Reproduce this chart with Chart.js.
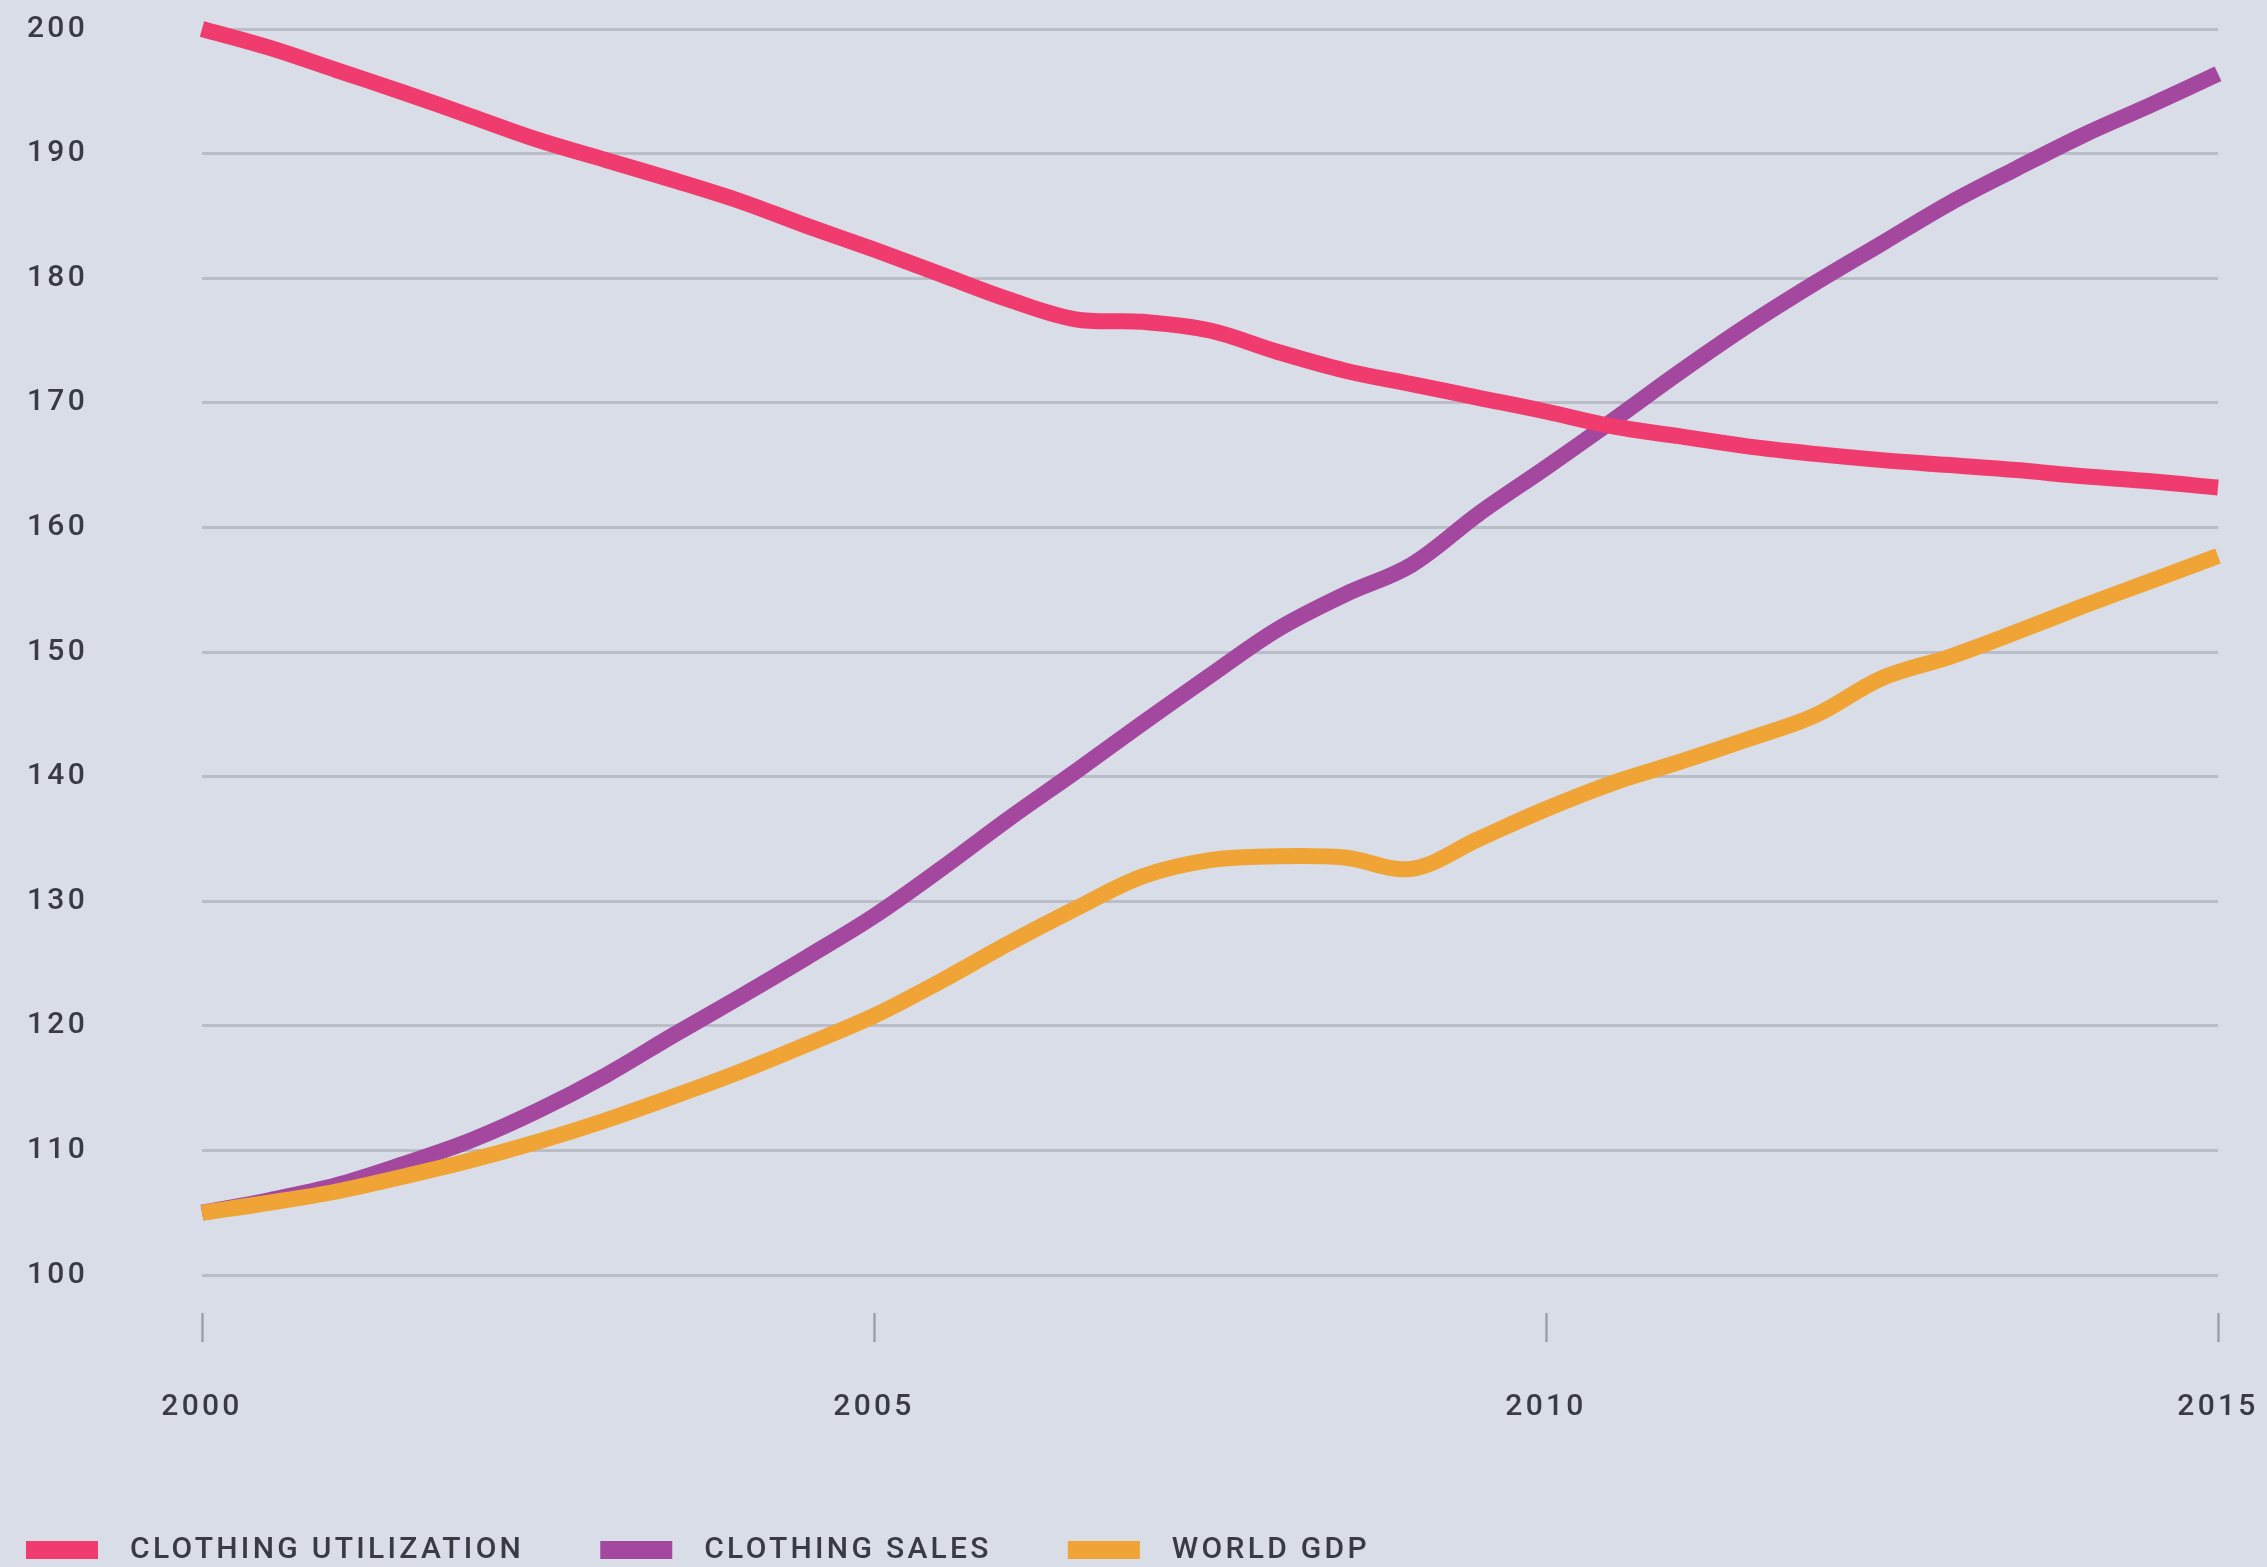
<!DOCTYPE html>
<html>
<head>
<meta charset="utf-8">
<script src="https://cdn.jsdelivr.net/npm/chart.js@4.4.1/dist/chart.umd.min.js"></script>
<style>
html,body{margin:0;padding:0;background:#d8dde7;overflow:hidden}
canvas{display:block}
</style>
</head>
<body>
<canvas id="c" width="2267" height="1567"></canvas>
<script>
// ---- data ----
const years = [2000,2000.5,2001,2001.5,2002,2002.5,2003,2003.5,2004,2004.5,2005,2005.5,2006,2006.5,2007,2007.5,2008,2008.5,2009,2009.5,2010,2010.5,2011,2011.5,2012,2012.5,2013,2013.5,2014,2014.5,2015];
const seriesNames = ['CLOTHING UTILIZATION','CLOTHING SALES','WORLD GDP'];
const clothingUtilization = [200.0,198.5,196.7,194.9,193.0,191.1,189.5,187.9,186.2,184.2,182.3,180.3,178.3,176.7,176.5,175.8,174.1,172.6,171.5,170.4,169.3,168.1,167.3,166.5,165.9,165.4,165.0,164.6,164.1,163.7,163.2];
const clothingSales = [105.0,106.0,107.2,108.9,110.8,113.2,116.0,119.2,122.3,125.5,128.8,132.6,136.6,140.4,144.3,148.1,151.8,154.6,157.0,161.1,164.8,168.6,172.5,176.2,179.6,182.8,186.0,188.8,191.5,193.9,196.4];
const worldGdp = [105.0,105.8,106.7,107.9,109.2,110.7,112.4,114.3,116.3,118.5,120.8,123.6,126.6,129.4,132.0,133.3,133.6,133.5,132.6,135.0,137.4,139.5,141.2,143.0,144.9,147.9,149.6,151.6,153.7,155.7,157.7];
const xTickLabels = [2000,2005,2010,2015];
const yTickLabels = [100,110,120,130,140,150,160,170,180,190,200];

// ---- styles ----
const colors = ['#ef3b6d','#a3479f','#efa435'];
const FONT = {family:'Roboto, "Liberation Sans", Arial, sans-serif', size:30, weight:'500'};
const TEXT = '#383b43';

function makeSwatch(color){
  const c = document.createElement('canvas');
  c.width = 129; c.height = 18;
  const g = c.getContext('2d');
  g.fillStyle = color;
  g.fillRect(40, 0, 72, 18);
  return c;
}
const swatches = colors.map(makeSwatch);

const spacing = {
  id:'spacing',
  beforeLayout(ch){ ch.ctx.letterSpacing = '3.3px'; },
  beforeDraw(ch){ ch.ctx.letterSpacing = '3.3px'; }
};

const toPts = arr => years.map((x,i)=>({x, y: arr[i]}));
const seriesValues = [clothingUtilization, clothingSales, worldGdp];
const drawOrder = [0, 2, 1];

new Chart(document.getElementById('c'), {
  type: 'line',
  data: {
    datasets: seriesValues.map((arr,i)=>({
      label: seriesNames[i],
      data: toPts(arr),
      borderColor: colors[i],
      backgroundColor: colors[i],
      borderWidth: 16,
      pointRadius: 0,
      pointHoverRadius: 0,
      tension: 0.35,
      fill: false,
      clip: false,
      order: drawOrder[i]
    }))
  },
  plugins: [spacing],
  options: {
    responsive: false,
    devicePixelRatio: 1,
    animation: false,
    events: [],
    layout: { autoPadding: false, padding: { top: 29, left: -50, right: 49, bottom: -8 } },
    scales: {
      x: {
        type: 'linear',
        min: 2000, max: 2015,
        afterBuildTicks: s => { s.ticks = xTickLabels.map(v=>({value:v})); },
        afterFit: s => { s.height = 224; s.paddingLeft = 0; s.paddingRight = 0; },
        grid: {
          drawOnChartArea: false,
          drawTicks: true,
          tickLength: 67,
          tickColor: '#9ca1ad',
          tickWidth: 2.5,
          tickBorderDash: [29, 38],
          tickBorderDashOffset: 29
        },
        border: { display: false },
        ticks: {
          padding: 47,
          color: TEXT,
          font: FONT,
          maxRotation: 0,
          autoSkip: false,
          callback: v => String(v)
        }
      },
      y: {
        type: 'linear',
        min: 100, max: 200,
        afterBuildTicks: s => { s.ticks = yTickLabels.map(v=>({value:v})); },
        afterFit: s => { s.width = 252; s.paddingTop = 0; s.paddingBottom = 0; },
        grid: {
          color: '#b8bdc8',
          lineWidth: 3,
          drawTicks: false
        },
        border: { display: false },
        ticks: {
          padding: 114,
          color: TEXT,
          font: FONT,
          callback: v => String(v)
        }
      }
    },
    plugins: {
      tooltip: { enabled: false },
      legend: {
        display: true,
        position: 'bottom',
        align: 'start',
        labels: {
          usePointStyle: true,
          pointStyleWidth: 129,
          padding: 36,
          color: TEXT,
          font: FONT,
          generateLabels(chart){
            const items = Chart.defaults.plugins.legend.labels.generateLabels(chart);
            items.sort((a,b)=>a.datasetIndex-b.datasetIndex);
            items.forEach(it=>{ it.pointStyle = swatches[it.datasetIndex]; it.fontColor = TEXT; });
            return items;
          }
        }
      }
    }
  }
});
</script>
</body>
</html>
